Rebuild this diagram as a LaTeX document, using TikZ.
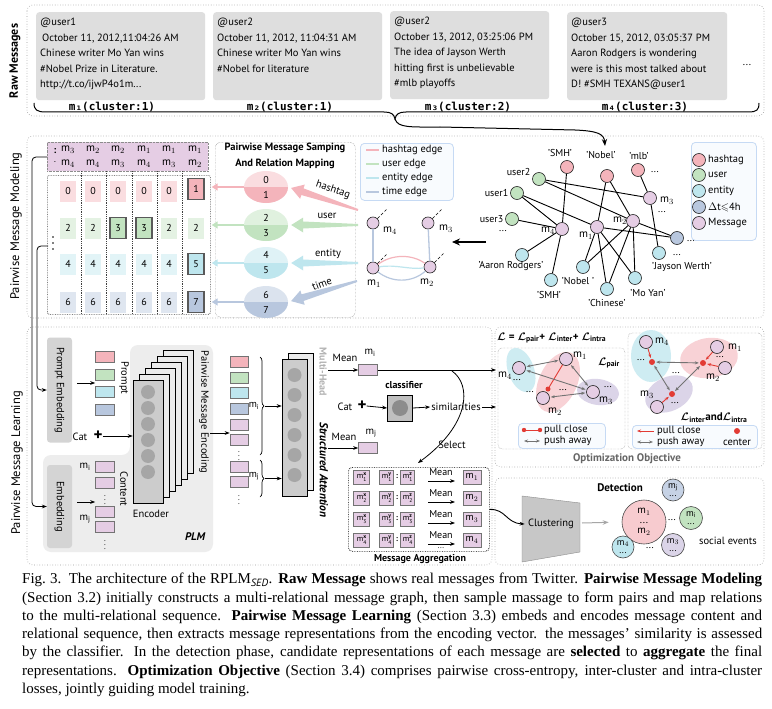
\documentclass[tikz,border=0pt]{standalone}
\usepackage{amsmath,amssymb,bm}
\usepackage{fontspec}
\setmainfont{PT Sans}
\setmonofont{DejaVu Sans Mono}
\newfontfamily\capfont{Liberation Serif}
\usetikzlibrary{arrows.meta,positioning,shapes.geometric,decorations.pathreplacing,calc}

\definecolor{hashc}{HTML}{F4B4BB}
\definecolor{userc}{HTML}{C2E3C0}
\definecolor{entc}{HTML}{BEE6EE}
\definecolor{timec}{HTML}{B8C7DE}
\definecolor{msgc}{HTML}{E5CDE4}
\definecolor{lavc}{HTML}{DBD4E8}
\definecolor{twgray}{HTML}{DEDEDE}
\definecolor{lblue}{HTML}{C6DAF4}
\definecolor{pullc}{HTML}{E23B34}

\newcommand{\msub}[1]{m$_{#1}$}
\newcommand{\mcand}[2]{m\rlap{\raisebox{3.2pt}{\fontsize{5.5}{5}\selectfont\bfseries #1}}\raisebox{-2.6pt}{\fontsize{5.5}{5}\selectfont #2}}
\newcommand{\bL}{\bm{\mathcal{L}}}

\tikzset{
  secbox/.style={draw=black!40, dotted, rounded corners=6pt, line width=0.6pt},
  twbox/.style={fill=twgray, rounded corners=3pt, anchor=north west, inner sep=0pt},
  twtext/.style={anchor=north west, align=left, inner sep=0pt, font=\fontsize{10.5}{15.5}\selectfont},
  gnode/.style={circle, draw=black!85, minimum size=13pt, inner sep=0pt, line width=0.6pt},
  glab/.style={font=\fontsize{10}{11}\selectfont, inner sep=0.5pt},
  tok/.style={draw=black!55, minimum width=19pt, minimum height=11pt, inner sep=0pt, line width=0.6pt},
  lo/.style={minimum width=16pt, minimum height=21pt, inner sep=0pt, fill=#1!45, font=\fontsize{10}{11}\selectfont},
  hi/.style={lo=#1, fill=#1, draw=black!65, line width=1.3pt},
  splitell/.style 2 args={ellipse, minimum width=44pt, minimum height=32pt, inner sep=0pt, fill=#1, align=center,
    font=\fontsize{10}{15}\selectfont,
    path picture={\fill[#2] (path picture bounding box.west) rectangle (path picture bounding box.south east);}},
  lgbox/.style={draw=lblue, fill=lblue!12, rounded corners=4pt, line width=0.8pt, inner sep=0pt, anchor=north west},
  embbox/.style={fill=black!17, rounded corners=3pt, rotate=-90, inner sep=0pt, font=\fontsize{10.5}{12}\selectfont},
  push/.style={{Stealth[length=4pt]}-{Stealth[length=4pt]}, draw=black!55, line width=0.9pt, shorten <=1pt, shorten >=1pt},
  pull/.style={-{Stealth[length=4pt]}, draw=pullc, line width=0.9pt, shorten >=1pt},
  agtok/.style={tok, minimum width=14pt, minimum height=14pt, inner sep=0.3pt, fill=msgc, font=\fontsize{8}{8}\selectfont},
  arr/.style={-{Stealth[length=5pt]}, line width=0.8pt},
  rdot/.style={circle, fill=pullc, inner sep=0pt, minimum size=6pt},
  evt/.style={circle, draw=black!70, line width=0.6pt, inner sep=0pt, align=center, font=\fontsize{9.5}{8}\selectfont}
}

\begin{document}
\begin{tikzpicture}[x=1pt, y=-1pt, font=\fontsize{10.5}{12}\selectfont]
\fill[white] (0,0) rectangle (772,709);
\useasboundingbox (0,0) rectangle (772,709);

% raw messages
\draw[secbox] (27,5) rectangle (764,116);
\node[rotate=90, font=\bfseries\fontsize{12}{14}\selectfont] (lraw) at (15,61) {Raw Messages};
\node[twbox, minimum width=169pt, minimum height=88pt] (tw1) at (36,12) {};
\node[twbox, minimum width=169pt, minimum height=88pt] (tw2) at (213,12) {};
\node[twbox, minimum width=159pt, minimum height=88pt] (tw3) at (390,11) {};
\node[twbox, minimum width=160pt, minimum height=88pt] (tw4) at (567,12) {};
\node[twtext] (tt1) at (40,18) {@user1\\\hspace{2pt}October 11, 2012,11:04:26 AM\\Chinese writer Mo Yan wins\\\#Nobel Prize in Literature.\\http://t.co/ijwP4o1m...};
\node[twtext] (tt2) at (217,18) {@user2\\October 11, 2012, 11:04:31 AM\\Chinese writer Mo Yan wins\\\#Nobel for literature};
\node[twtext] (tt3) at (394,17) {@user2\\October 13, 2012, 03:25:06 PM\\The idea of Jayson Werth\\hitting first is unbelievable\\\#mlb playoffs};
\node[twtext] (tt4) at (571,18) {@user3\\October 15, 2012, 03:05:37 PM\\Aaron Rodgers is wondering\\were is this most talked about\\D! \#SMH TEXANS@user1};
\node (twmore) at (747,65) {...};
\node[font=\ttfamily\bfseries\fontsize{11}{12}\selectfont] (cl1) at (112,107) {m₁(cluster:1)};
\node[font=\ttfamily\bfseries\fontsize{11}{12}\selectfont] (cl2) at (290,107) {m₂(cluster:1)};
\node[font=\ttfamily\bfseries\fontsize{11}{12}\selectfont] (cl3) at (468,107) {m₃(cluster:2)};
\node[font=\ttfamily\bfseries\fontsize{11}{12}\selectfont] (cl4) at (645,107) {m₄(cluster:3)};
% brace with tail
\coordinate (bcusp) at (395,119);
\coordinate (btail) at (605,146);
\draw[line width=1pt] (34,103) .. controls (34,110) and (37,112) .. (46,112) -- (384,112)
  .. controls (391,112) and (394,114) .. (bcusp) .. controls (396,114) and (399,112) .. (406,112)
  -- (748,112) .. controls (757,112) and (759,110) .. (759,103);
\draw[line width=1pt, -{Stealth[length=7pt]}] (bcusp) .. controls (398,128) and (410,127) .. (440,127)
  -- (575,130) .. controls (598,131) and (604,134) .. (btail);

% pairwise message modeling
\draw[secbox] (27,136) rectangle (764,318);
\node[rotate=90, font=\fontsize{12.5}{14}\selectfont] (lmod) at (16,226) {Pairwise Message Modeling};
\node[fill=msgc, draw=black!45, densely dotted, minimum width=161pt, minimum height=29pt, anchor=north west, inner sep=0pt] (hdr) at (47,142) {};
\foreach \x/\a/\b in {68/3/4, 93/2/4, 118/2/3, 144/1/4, 169/1/3, 195/1/2} {
  \node[font=\fontsize{11}{12}\selectfont] at (\x,150) {\msub{\a}};
  \node[font=\fontsize{11}{12}\selectfont] at (\x,164) {\msub{\b}};
}
\node[font=\bfseries] (hd1) at (55,151) {:};
\node[font=\bfseries] (hd2) at (55,162) {$\cdot$};
\node[draw=black!75, densely dotted, line width=0.7pt, rounded corners=2pt, minimum width=163pt, minimum height=139pt, anchor=north west, inner sep=0pt] (body) at (47,175) {};
\foreach \x in {81,106,132,157,182}
  \draw[black!75, densely dotted, line width=0.8pt] (\x,171) -- (\x,314);
\foreach \y in {237,243,249} \fill (53,\y) circle (0.9);
\coordinate (vd) at (48,246);
\coordinate (hdrL) at (47,157);
% relation cells
\foreach \x/\v [count=\c] in {68/0,93/0,118/0,144/0,169/0} \node[lo=hashc] (ra\c) at (\x,191) {\v};
\node[hi=hashc] (ra6) at (196,189) {1};
\foreach \x/\v [count=\c] in {68/2,93/2,118/3,144/3,169/2,196/2} \node[lo=userc] (rb\c) at (\x,228) {\v};
\node[hi=userc] (rbh3) at (118,228) {3};
\node[hi=userc] (rbh4) at (144,228) {3};
\foreach \x/\v [count=\c] in {68/4,93/4,118/4,144/4,169/4} \node[lo=entc] (rc\c) at (\x,264) {\v};
\node[hi=entc] (rc6) at (196,264) {5};
\foreach \x/\v [count=\c] in {68/6,93/6,118/6,144/6,169/6} \node[lo=timec] (rd\c) at (\x,302) {\v};
\node[hi=timec] (rd6) at (196,302) {7};

% sampling and mapping
\node[draw=black!60, densely dotted, rounded corners=5pt, minimum width=140pt, minimum height=175pt, anchor=north west, inner sep=0pt] (sbox) at (215,142) {};
\node[font=\bfseries\fontsize{10.5}{16}\selectfont, align=center] (stitle) at (285,156) {Pairwise Message Samping\\And Relation Mapping};
\node[splitell={hashc!45}{hashc}] (el1) at (266,187) {0\\1};
\node[splitell={userc!50}{userc}] (el2) at (266,225) {2\\3};
\node[splitell={entc!50}{entc}] (el3) at (266,263) {4\\5};
\node[splitell={timec!50}{timec}] (el4) at (266,302) {6\\7};
\foreach \e/\c in {el1/hashc, el2/userc, el3/entc, el4/timec}
  \draw[color=\c, line width=2.5pt, -{Triangle[width=7pt,length=6pt]}, shorten >=1pt] (\e.west) -- (\e.west -| body.east);
\coordinate (th) at (358,210);
\coordinate (tu) at (358,225);
\coordinate (te) at (358,263);
\coordinate (tt) at (357,281);
% tapered relation arrows
\foreach \t/\e/\c in {th/el1/hashc, tu/el2/userc, te/el3/entc, tt/el4/timec} {
  \coordinate (\t-p) at ($(\e.east)!3pt!(\t)$);
  \coordinate (\t-q) at ($(\t-p)!12pt!(\t)$);
  \fill[color=\c] ($(\t)!1pt!90:(\t-q)$) -- ($(\t-q)!3.5pt!-90:(\t)$) -- ($(\t-q)!7.5pt!-90:(\t)$) -- (\t-p)
    -- ($(\t-q)!7.5pt!90:(\t)$) -- ($(\t-q)!3.5pt!90:(\t)$) -- ($(\t)!1pt!-90:(\t-q)$) -- cycle;
}
\node[rotate=-19] (lh) at (333,190) {hashtag};
\node (lu) at (327,216) {user};
\node (le) at (328,254) {entity};
\node[rotate=20] (lt) at (322,284) {time};
% edge legend
\node[lgbox, minimum width=93pt, minimum height=57pt] (elg) at (360,143) {};
\foreach \c/\t/\y in {hashc/hashtag edge/150, userc/user edge/164, entc/entity edge/178, timec/time edge/192} {
  \draw[color=\c, line width=1.2pt] (366,\y) -- (379,\y);
  \node[anchor=west, inner sep=0pt] at (382,\y) {\t};
}
% sampled pair graph
\node[gnode, fill=msgc, minimum size=12pt] (s4) at (373,223) {};
\node[gnode, fill=msgc, minimum size=12pt] (s3) at (428,223) {};
\node[gnode, fill=msgc, minimum size=12pt] (s1) at (373,268) {};
\node[gnode, fill=msgc, minimum size=12pt] (s2) at (430,267) {};
\foreach \n in {s4,s3,s1,s2} \draw[densely dashed, line width=0.7pt] (\n.north east) -- ++(9,-9);
\node[font=\fontsize{11}{12}\selectfont] (ls4) at (390,231) {\msub{4}};
\node[font=\fontsize{11}{12}\selectfont] (ls3) at (446,229) {\msub{3}};
\node[font=\fontsize{11}{12}\selectfont] (ls1) at (374,284) {\msub{1}};
\node[font=\fontsize{11}{12}\selectfont] (ls2) at (427,283) {\msub{2}};
\draw[timec, line width=1.3pt] (s4) -- (s1);
\draw[timec, line width=1.3pt] (s3) -- (s2);
\draw[hashc, line width=1.2pt] (s1) .. controls (392,254) and (412,254) .. (s2);
\draw[entc, line width=1.2pt] (s1) .. controls (395,264) and (410,270) .. (s2);
\draw[timec, line width=1.2pt] (s1) .. controls (392,283) and (412,283) .. (s2);
\coordinate (bgL) at (486,242);
\coordinate (sgR) at (452,242);
\draw[line width=1.4pt, -{Stealth[length=8pt,width=7pt]}] (bgL) -- (sgR);

% message graph
\node[gnode, fill=hashc] (h1) at (567,167) {};
\node[gnode, fill=hashc] (h2) at (607,176) {};
\node[gnode, fill=hashc] (h3) at (638,170) {};
\node[gnode, fill=userc] (u2) at (539,179) {};
\node[gnode, fill=userc] (u1) at (517,193) {};
\node[gnode, fill=userc] (u3) at (512,219) {};
\node[gnode, fill=timec] (gt) at (677,238) {};
\node[gnode, fill=entc] (e1) at (522,255) {};
\node[gnode, fill=entc] (e2) at (551,280) {};
\node[gnode, fill=entc] (e3) at (583,267) {};
\node[gnode, fill=entc] (e4) at (607,289) {};
\node[gnode, fill=entc] (e5) at (635,278) {};
\node[gnode, fill=entc] (e6) at (659,253) {};
\node[gnode, fill=msgc] (gm4) at (562,229) {};
\node[gnode, fill=msgc] (gm1) at (597,227) {};
\node[gnode, fill=msgc] (gm2) at (633,221) {};
\node[gnode, fill=msgc] (gm3) at (650,198) {};
\foreach \a/\b in {h1/gm4, h2/gm1, h2/gm2, h3/gm3, u2/gm3, u2/gm2, gm2/gt, gm1/gt, u1/gm4, u1/gm1, u3/gm4,
  gm4/e1, gm4/e2, gm3/e6, gm1/e3, gm1/e4, gm1/e5, gm2/e3, gm2/e4, gm2/e5}
  \draw[line width=0.9pt] (\a) -- (\b);
\node[glab] at (560,153) {'SMH'};
\node[glab] at (601,155) {'Nobel'};
\node[glab] at (639,156) {'mlb'};
\node[glab] at (655,172) {...};
\node[glab, anchor=east] at (531,172) {user2};
\node[glab, anchor=east] at (509,193) {user1};
\node[glab, anchor=east] at (504,219) {user3};
\node[glab] at (503,231) {...};
\node[glab, font=\fontsize{11}{12}\selectfont] at (548,231) {\msub{4}};
\node[glab, font=\fontsize{11}{12}\selectfont] at (586,236) {\msub{1}};
\node[glab, font=\fontsize{11}{12}\selectfont] at (620,221) {\msub{2}};
\node[glab, font=\fontsize{11}{12}\selectfont] at (667,201) {\msub{3}};
\node[glab] at (662,212) {...};
\node[glab] at (691,241) {...};
\node[glab] at (511,266) {'Aaron Rodgers'};
\node[glab] at (549,295) {'SMH'};
\node[glab] at (578,281) {'Nobel '};
\node[glab] at (607,303) {'Chinese'};
\node[glab] at (648,293) {'Mo Yan'};
\node[glab] at (682,267) {'Jayson Werth'};
\node[glab] at (677,255) {...};
% node legend
\node[lgbox, minimum width=65pt, minimum height=98pt] (nlg) at (691,142) {};
\foreach \c/\t/\y in {hashc/hashtag/160, userc/user/175, entc/entity/191, timec/{$\Delta$t$\leqslant$4h}/207, msgc/Message/223} {
  \node[gnode, fill=\c] at (699,\y) {};
  \node[anchor=west, inner sep=0pt] at (708,\y) {\t};
}

% pairwise message learning
\draw[secbox] (27,327) rectangle (492,565);
\draw[secbox] (495,327) rectangle (764,467);
\draw[secbox] (495,478) rectangle (764,565);
\node[rotate=90, font=\fontsize{12.5}{14}\selectfont] (llrn) at (17,463) {Pairwise Message Learning};
\fill[black!7, rounded corners=8pt] (130,345) -- (213,345) -- (213,552) -- (43,552) -- (43,455) -- (130,455) -- cycle;
\node[embbox, minimum width=105pt, minimum height=25pt] (pemb) at (59.5,390) {Prompt Embedding};
\node[embbox, minimum width=83pt, minimum height=25pt] (emb) at (59.5,506.5) {Embedding};
\draw[arr, rounded corners=4pt] (hdrL) -- (32,157) -- (32,506.5) -- (emb.south);
\draw[arr, rounded corners=4pt] (vd) -- (37,246) -- (37,390) -- (pemb.south);
% prompt and content tokens
\node[tok, fill=hashc] (tp1) at (105,357) {};
\node[tok, fill=userc] (tp2) at (105,375) {};
\node[tok, fill=entc] (tp3) at (105,392) {};
\node[tok, fill=timec] (tp4) at (105,410) {};
\coordinate (pin) at (77,383);
\draw[arr] (pin) -- (tp2.south west |- pin);
\node[rotate=-90] (lprompt) at (124,378) {Prompt};
\node[tok, fill=msgc] (tc1) at (105,467) {};
\node[tok, fill=msgc] (tc2) at (105,483) {};
\node[font=\fontsize{8}{8}\selectfont] (tcd1) at (105,497) {$\vdots$};
\node[tok, fill=msgc] (tc3) at (105,512) {};
\node[tok, fill=msgc] (tc4) at (105,527) {};
\node[font=\fontsize{8}{8}\selectfont] (tcd2) at (105,542) {$\vdots$};
\node (lmi) at (85,467) {\msub{\mathrm{i}}};
\node (lmj) at (85,519) {\msub{\mathrm{j}}};
\coordinate (cin) at (77,502);
\draw[arr] (cin) -- (tc3.north west |- cin);
\node[rotate=-90] (lcontent) at (124,489) {Content};
\node (cat1) at (80,437) {Cat};
\node[font=\bfseries\fontsize{17}{17}\selectfont, inner sep=0pt] (plus1) at (98,436) {+};
% encoder
\foreach \k in {5,4,...,1}
  \draw[fill=black!8, line width=0.6pt] (133+6*\k,380-6*\k) rectangle (163+6*\k,503-6*\k);
\node[draw, fill=black!20, line width=0.6pt, minimum width=30pt, minimum height=123pt, inner sep=0pt] (enc) at (148,441.5) {};
\foreach \yy in {392,408,...,472} \fill[black!35] (148,\yy) circle (7);
\draw[arr] (plus1.east) -- (enc.west |- plus1);
\node (lenc) at (151,514) {Encoder};
\node[rotate=-90] (lpme) at (204,412) {Pairwise Message Encoding};
\node[font=\bfseries\itshape\fontsize{11}{12}\selectfont] (lplm) at (195,537) {PLM};
\coordinate (eout) at (210,433);
% encoded tokens
\node[tok, fill=hashc, minimum width=18pt] (to1) at (239,362) {};
\node[tok, fill=userc, minimum width=18pt] (to2) at (239,378) {};
\node[tok, fill=entc, minimum width=18pt] (to3) at (239,393) {};
\node[tok, fill=timec, minimum width=18pt] (to4) at (239,409) {};
\node[tok, fill=msgc, minimum width=18pt] (to5) at (239,425) {};
\node[tok, fill=msgc, minimum width=18pt] (to6) at (239,440) {};
\node[font=\fontsize{8}{8}\selectfont] (tod1) at (239,453) {$\vdots$};
\node[tok, fill=msgc, minimum width=18pt] (to7) at (239,467) {};
\node[tok, fill=msgc, minimum width=18pt] (to8) at (239,482) {};
\node[font=\fontsize{8}{8}\selectfont] (tod2) at (239,497) {$\vdots$};
\draw[arr] (eout) -- (to5.west |- eout);
\node[inner sep=0pt, font=\fontsize{10}{11}\selectfont] (lomi) at (254,406) {\msub{\mathrm{i}}};
\node[inner sep=0pt, font=\fontsize{10}{11}\selectfont] (lomj) at (254,476) {\msub{\mathrm{j}}};
\draw[decorate, decoration={brace, amplitude=4pt}, line width=0.7pt] (260,357) -- (260,455);
\draw[decorate, decoration={brace, amplitude=4pt}, line width=0.7pt] (260,460) -- (260,497);
\coordinate (bri) at (265,406);
\coordinate (brj) at (265,478.5);
% structured attention
\draw[fill=black!8, line width=0.6pt] (288,353) rectangle (313,490);
\node[draw, fill=black!20, line width=0.6pt, minimum width=25pt, minimum height=137pt, inner sep=0pt] (att) at (294.5,427.5) {};
\foreach \yy in {375,395,...,475} \fill[black!35] (294.5,\yy) circle (7);
\draw[arr] (bri) -- (bri -| att.west);
\draw[arr] (brj) -- (brj -| att.west);
\node[rotate=-90, text=black!30, font=\bfseries\fontsize{10}{11}\selectfont] (lmh) at (323,372) {Multi-Head};
\node[rotate=-90, font=\bfseries\itshape\fontsize{11.5}{12}\selectfont] (lsa) at (324,470) {Structured Attention};
% pooling and classifier
\coordinate (ai) at (328,370);
\coordinate (aj) at (328,448);
\node[tok, fill=msgc] (ri) at (368,370) {};
\node[tok, fill=msgc] (rj) at (368,448) {};
\draw[arr] (ai) -- (ri);
\draw[arr] (aj) -- (rj);
\node (lmean1) at (345,358) {Mean};
\node (lmean2) at (344,437) {Mean};
\node (lri) at (370,353) {\msub{\mathrm{i}}};
\node (lrj) at (371,433) {\msub{\mathrm{j}}};
\coordinate (oin1) at (496,370);
\coordinate (oin2) at (496,407);
\draw[arr] (ri) -- (oin1);
\node[font=\bfseries] (lcls) at (404,385) {classifier};
\node[draw, fill=black!25, line width=0.8pt, minimum width=25pt, minimum height=26pt, inner sep=0pt] (cls) at (400,408) {};
\fill[black!45] (cls) circle (8);
\node (cat2) at (345,407) {Cat};
\node[font=\bfseries\fontsize{17}{17}\selectfont, inner sep=0pt] (plus2) at (362,406) {+};
\draw[arr] (plus2.east) -- (cls.west);
\node[inner sep=1pt] (sim) at (456,407) {similarities};
\draw[arr] (cls.east) -- (sim.west);
\draw[arr] (sim.east) -- (oin2);
\coordinate (selA) at (452,371);
\draw[arr] (selA) .. controls (472,385) and (470,425) .. (418,463);
\node (lsel) at (452,445) {Select};
% message aggregation
\node[draw, densely dotted, line width=0.7pt, rounded corners=4pt, minimum width=141pt, minimum height=84pt, anchor=north west, inner sep=0pt] (agg) at (348,467) {};
\foreach \k/\yy in {1/477,2/498,3/519,4/540} {
  \node[agtok, minimum width=16pt] (ax\k) at (361.5,\yy) {\mcand{x}{\k}};
  \node[agtok] (ay\k) at (386.5,\yy) {\mcand{y}{\k}};
  \node[font=\bfseries\fontsize{8}{8}\selectfont, inner sep=0pt] at (397,\yy) {:};
  \node[agtok] (az\k) at (407.5,\yy) {\mcand{z}{\k}};
  \node[font=\fontsize{10}{11}\selectfont, inner sep=0pt] at (441,\yy-5) {Mean};
  \draw[arr] (428,\yy+4) -- (455,\yy+4);
  \node[agtok, minimum width=18pt, font=\fontsize{10}{11}\selectfont] (am\k) at (472,\yy) {\msub{\k}};
}
\node[font=\fontsize{8}{8}\selectfont] at (441,548) {...};
\node[font=\bfseries\fontsize{10}{11}\selectfont] (lagg) at (420,559) {Message Aggregation};

% optimization objective
\node[anchor=west, inner sep=0pt, font=\fontsize{11}{12}\selectfont] (lobj) at (497,338) {$\bL$ \textbf{=} $\bL_{\text{\bfseries pair}}$\textbf{+} $\bL_{\text{\bfseries inter}}$\textbf{+} $\bL_{\text{\bfseries intra}}$};
\draw[black!55, densely dotted, rounded corners=4pt] (498,348) rectangle (625,449);
\draw[black!55, densely dotted, rounded corners=4pt] (628,333) rectangle (762,449);
\node[font=\bfseries\fontsize{11}{12}\selectfont, text=black!60] (lopt) at (627,459) {Optimization Objective};
% pair loss
\fill[entc!75, rotate around={20:(521,370)}] (521,370) ellipse [x radius=13, y radius=23];
\fill[hashc!60, rotate around={-25:(558,382)}] (558,382) ellipse [x radius=19, y radius=32];
\fill[lavc, rotate around={-8:(598,392)}] (598,392) ellipse [x radius=21, y radius=13];
\node[gnode, fill=msgc] (pn1) at (566,359) {};
\node[gnode, fill=msgc] (pn4) at (519,368) {};
\node[gnode, fill=msgc] (pn2) at (543,398) {};
\node[gnode, fill=msgc] (pn3) at (593,392) {};
\node[rdot, minimum size=5pt] (pd) at (548,389) {};
\draw[pullc, line width=0.9pt] (pd) -- (pn1);
\draw[push] (pn4) -- (pn1);
\draw[push] (pn4) -- (pn3);
\draw[push] (pn1) -- (pn3);
\draw[push] (pn2) -- (pn3);
\node[glab, font=\fontsize{11}{12}\selectfont] at (580,356) {\msub{1}};
\node[glab, font=\fontsize{11}{12}\selectfont] at (505,376) {\msub{4}};
\node[glab, font=\fontsize{11}{12}\selectfont] at (555,412) {\msub{2}};
\node[glab, font=\fontsize{11}{12}\selectfont] at (606,401) {\msub{3}};
\node[glab] at (517,380) {...};
\node[glab] at (530,392) {...};
\node[glab] at (563,390) {...};
\node[glab] at (608,387) {...};
\node[glab, font=\fontsize{11}{12}\selectfont] (lpair) at (609,363) {$\bL_{\text{\bfseries pair}}$};
\node[lgbox, minimum width=87pt, minimum height=25pt] (plg) at (518,423) {};
\draw[pullc, line width=0.9pt] (524,430) -- (540,430);
\fill[pullc] (524,430) circle (2.2) (540,430) circle (2.2);
\draw[push] (523,441) -- (541,441);
\node[anchor=west, inner sep=0pt] at (544,430) {pull close};
\node[anchor=west, inner sep=0pt] at (544,441) {push away};
% inter and intra loss
\fill[entc!75] (651,356) ellipse [x radius=20, y radius=26];
\fill[hashc!60, rotate around={8:(709,358)}] (709,358) ellipse [x radius=29, y radius=20];
\fill[lavc, rotate around={25:(669,394)}] (669,394) ellipse [x radius=25, y radius=17];
\node[gnode, fill=msgc] (im4) at (646,342) {};
\node[gnode, fill=msgc] (im1) at (717,347) {};
\node[gnode, fill=msgc] (im2) at (725,368) {};
\node[gnode, fill=msgc] (im3) at (657,407) {};
\node[rdot] (c4) at (652,362) {};
\node[rdot] (c1) at (703,363) {};
\node[rdot] (c3) at (672,394) {};
\draw[pull] (im4) -- (c4);
\draw[pull] (im1) -- (c1);
\draw[pull] (im2) -- (c1);
\draw[pull] (im3) -- (c3);
\draw[push] (c4) -- (c1);
\draw[push] (c4) -- (c3);
\draw[push] (c3) -- (c1);
\node[glab, font=\fontsize{11}{12}\selectfont] at (662,342) {\msub{4}};
\node[glab, font=\fontsize{11}{12}\selectfont] at (735,348) {\msub{1}};
\node[glab, font=\fontsize{11}{12}\selectfont] at (713,378) {\msub{2}};
\node[glab, font=\fontsize{11}{12}\selectfont] at (647,395) {\msub{3}};
\node[glab] at (641,360) {...};
\node[glab] at (720,357) {...};
\node[glab] at (675,403) {...};
\node[glab] at (676,373) {...};
\node[glab, font=\fontsize{11}{12}\selectfont] (linter) at (714,418) {$\bL_{\text{\bfseries inter}}$\textbf{and}$\bL_{\text{\bfseries intra}}$};
\node[lgbox, minimum width=125pt, minimum height=23pt] (ilg) at (632,425) {};
\draw[pull] (654,431) -- (636,431);
\draw[push] (636,442) -- (654,442);
\node[anchor=west, inner sep=0pt] at (657,431) {pull close};
\node[anchor=west, inner sep=0pt] at (657,442) {push away};
\node[rdot] at (737,431) {};
\node at (737,442) {center};

% detection
\fill[black!22, draw=black!45] (522,496) -- (580,503) -- (580,552) -- (522,562) -- cycle;
\node (clu) at (551,524) {Clustering};
\draw[arr, line width=0.9pt] (agg.east) .. controls (506,509) and (506,523) .. (clu.west);
\coordinate (cluR) at (582,523);
\node[font=\bfseries\fontsize{11}{12}\selectfont] (ldet) at (620,488) {Detection};
\node[evt, fill=hashc!70, minimum size=44pt, font=\fontsize{10.5}{10}\selectfont] (ev1) at (644,522) {\msub{1}\\...\\\msub{2}};
\draw[black!35, line width=1pt, -{Stealth[length=6pt]}, shorten >=13pt] (cluR) -- (ev1.west);
\node[evt, fill=timec!80, minimum size=22pt] (ev2) at (673,490) {\msub{\mathrm{j}}\\...};
\node[evt, fill=userc, minimum size=23pt] (ev3) at (691,518) {\msub{\mathrm{i}}\\...};
\node[evt, fill=entc, minimum size=22pt] (ev4) at (623,547) {\msub{4}\\...};
\node[evt, fill=lavc, minimum size=23pt] (ev5) at (673,545) {\msub{3}\\...};
\node[glab] at (672,520) {...};
\node[glab] at (650,548) {...};
\node[font=\fontsize{10.5}{12}\selectfont] (lsoc) at (728,541) {social events};

% caption
\node[anchor=north west, text width=740pt, align=justify, inner sep=0pt, font=\capfont\fontsize{15}{18.3}\selectfont] (cap) at (22,573) {\hbadness=10000
Fig.~3.\hspace{0.5em}The architecture of the RPLM$_{\mathit{SED}}$. \textbf{Raw Message} shows real messages from Twitter. \textbf{Pairwise Message Modeling}\linebreak
(Section 3.2) initially constructs a multi-relational message graph, then sample massage to form pairs and map relations\linebreak
to the multi-relational sequence. \textbf{Pairwise Message Learning} (Section 3.3) embeds and encodes message content and\linebreak
relational sequence, then extracts message representations from the encoding vector. the messages’ similarity is assessed\linebreak
by the classifier. In the detection phase, candidate representations of each message are \textbf{selected} to \textbf{aggregate} the final\linebreak
representations. \textbf{Optimization Objective} (Section 3.4) comprises pairwise cross-entropy, inter-cluster and intra-cluster\linebreak
losses, jointly guiding model training.};
\end{tikzpicture}
\end{document}
